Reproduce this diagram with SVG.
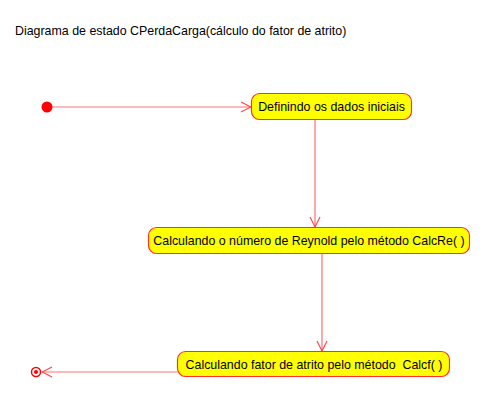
<svg xmlns="http://www.w3.org/2000/svg" width="504" height="416" viewBox="0 0 504 416">
<defs>
<style>
.node rect{fill:#FFFF00;stroke:#FF3030;stroke-width:1.2}
.node text{font-family:"Liberation Sans",Arial,sans-serif;font-size:12.4px;fill:#000;text-anchor:middle}
.conn{stroke:#FF7070;stroke-width:1.2;fill:none}
.title{font-family:"Liberation Sans",Arial,sans-serif;font-size:12.4px;fill:#000}
</style>
<marker id="arr" viewBox="0 0 12 12" refX="11" refY="6" markerWidth="12" markerHeight="12" markerUnits="userSpaceOnUse" orient="auto">
<path d="M1,1 L11,6 L1,11" fill="none" stroke="#FF4040" stroke-width="1.1"/>
</marker>
</defs>
<rect width="504" height="416" fill="#fff"/>
<text class="title" x="15" y="35">Diagrama de estado CPerdaCarga(cálculo do fator de atrito)</text>
<g id="connectors">
<line class="conn" x1="52" y1="107" x2="251" y2="107" marker-end="url(#arr)"/>
<line class="conn" x1="315" y1="119" x2="315" y2="227" marker-end="url(#arr)"/>
<line class="conn" x1="322" y1="253" x2="322" y2="351" marker-end="url(#arr)"/>
<line class="conn" x1="177" y1="372" x2="42" y2="372" marker-end="url(#arr)"/>
</g>
<g id="initial">
<circle cx="47" cy="107" r="5.5" fill="#FF0000"/>
</g>
<g id="n1" class="node">
<rect x="251.5" y="93.5" width="160" height="26" rx="8"/>
<text x="331.5" y="111">Definindo os dados iniciais</text>
</g>
<g id="n2" class="node">
<rect x="148.5" y="227.5" width="321" height="26" rx="8"/>
<text x="309" y="245">Calculando o número de Reynold pelo método CalcRe( )</text>
</g>
<g id="n3" class="node">
<rect x="177.5" y="351.5" width="272" height="25" rx="8"/>
<text x="314" y="368.5" xml:space="preserve">Calculando fator de atrito pelo método  Calcf( )</text>
</g>
<g id="final">
<circle cx="36" cy="372" r="4.5" fill="#fff" stroke="#FF0000" stroke-width="1.5"/>
<circle cx="36" cy="372" r="2" fill="#FF0000"/>
</g>
</svg>
